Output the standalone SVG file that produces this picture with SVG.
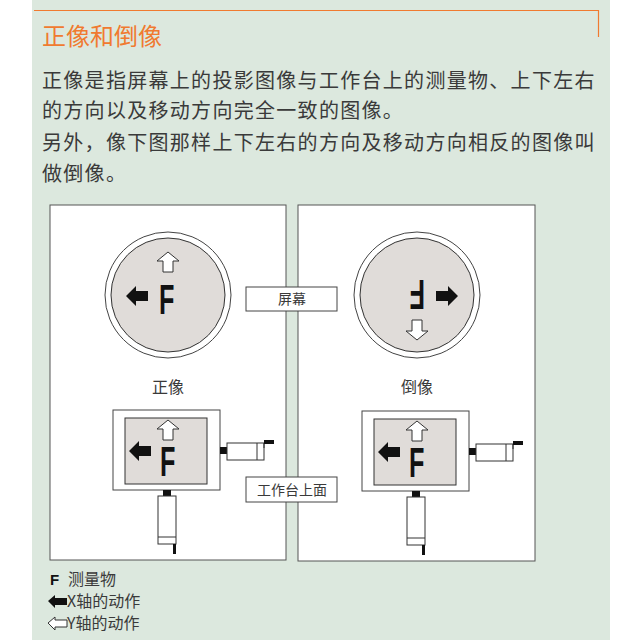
<svg xmlns="http://www.w3.org/2000/svg" width="640" height="640" viewBox="0 0 640 640">
<defs>
<style>
.t{font-family:"Noto Sans CJK SC","Noto Sans",sans-serif;fill:#3a3a3a}
.body{font-size:20px;letter-spacing:1.3px}
.lbl{font-size:16px}
.F{font-family:"Liberation Sans","DejaVu Sans",sans-serif;font-weight:bold;fill:#111}
.panel{fill:#fff;stroke:#555;stroke-width:1}
.box{fill:#fff;stroke:#444;stroke-width:1}
.gray{fill:#e0dcd9;stroke:#333;stroke-width:1}
.wa{fill:#fff;stroke:#333;stroke-width:1}
.ba{fill:#111}
</style>
<g id="ba"><path d="M0,0 L10,-10 V-5 H22 V5 H10 V10 Z" class="ba"/></g>
<g id="wa"><path d="M0,0 L-11,-9 H-5 V-20 H5 V-9 H11 Z" class="wa" transform="rotate(180)"/></g>
<g id="bigF"><text x="0" y="0" class="F" font-size="42" transform="scale(0.6,1)">F</text></g>
<g id="stage">
<rect x="0" y="0" width="107" height="80" class="box" fill="none"/>
<rect x="12" y="8" width="82" height="66" class="gray"/>
<rect x="107" y="37" width="7" height="7" fill="#111"/>
<rect x="114" y="33" width="37" height="17" class="wa"/>
<line x1="144" y1="33" x2="144" y2="50" stroke="#333"/>
<path d="M151,33 V38" stroke="#333"/>
<rect x="151" y="30" width="10" height="4" fill="#111"/>
<rect x="50" y="80" width="8" height="6" fill="#111"/>
<rect x="45" y="86" width="18" height="48" class="wa"/>
<line x1="45" y1="127" x2="63" y2="127" stroke="#333"/>
<rect x="60" y="134" width="3" height="10" fill="#111"/>
</g>
</defs>
<rect x="32" y="0" width="578" height="640" fill="#dce8de"/>
<path d="M34,10.5 H598.5 V37" fill="none" stroke="#f07a30" stroke-width="1.2"/>
<text x="42" y="45" class="t" style="font-size:24px;fill:#f07a30">正像和倒像</text>
<text class="t body"><tspan x="42" y="88">正像是指屏幕上的投影图像与工作台上的测量物、上下左右</tspan><tspan x="42" y="118">的方向以及移动方向完全一致的图像。</tspan><tspan x="42" y="150">另外，像下图那样上下左右的方向及移动方向相反的图像叫</tspan><tspan x="42" y="181">做倒像。</tspan></text>

<g id="left-panel">
<rect x="50" y="205" width="236" height="355" class="panel"/>
<circle cx="168" cy="295" r="63" fill="#fff" stroke="#444"/>
<circle cx="168" cy="295" r="57" class="gray"/>
<use href="#bigF" x="159" y="314"/>
<use href="#ba" x="126" y="296"/>
<use href="#wa" x="168" y="252"/>
<text x="168" y="393" class="t lbl" text-anchor="middle">正像</text>
<use href="#stage" x="113" y="410"/>
<use href="#bigF" x="160" y="476"/>
<use href="#ba" x="129" y="451"/>
<use href="#wa" x="168" y="420"/>
</g>

<g id="right-panel">
<rect x="298" y="205" width="237" height="356" class="panel"/>
<circle cx="417" cy="295" r="63" fill="#fff" stroke="#444"/>
<circle cx="417" cy="295" r="57" class="gray"/>
<use href="#bigF" transform="translate(425,280) rotate(180)"/>
<use href="#ba" transform="translate(458,296) rotate(180)"/>
<use href="#wa" transform="translate(417,340) rotate(180)"/>
<text x="417" y="393" class="t lbl" text-anchor="middle">倒像</text>
<use href="#stage" x="362" y="411"/>
<use href="#bigF" x="409" y="477"/>
<use href="#ba" x="378" y="452"/>
<use href="#wa" x="417" y="421"/>
</g>

<g id="label-screen"><rect x="246" y="287" width="91" height="24" class="box"/><text x="292" y="304" class="t" font-size="14" text-anchor="middle">屏幕</text></g>
<g id="label-stage"><rect x="246" y="477" width="91" height="25" class="box"/><text x="292" y="495" class="t" font-size="14" text-anchor="middle">工作台上面</text></g>

<g id="legend">
<text x="50" y="585" class="F" font-size="15">F</text>
<text x="68" y="585" class="t" font-size="16">测量物</text>
<path d="M48,601 L55,595 V598 H67 V605 H55 V608 Z" class="ba"/>
<text x="67" y="607" class="t" font-size="16">X轴的动作</text>
<path d="M48,623 L55,617 V620 H67 V627 H55 V630 Z" class="wa"/>
<text x="67" y="629" class="t" font-size="16">Y轴的动作</text>
</g>
</svg>
